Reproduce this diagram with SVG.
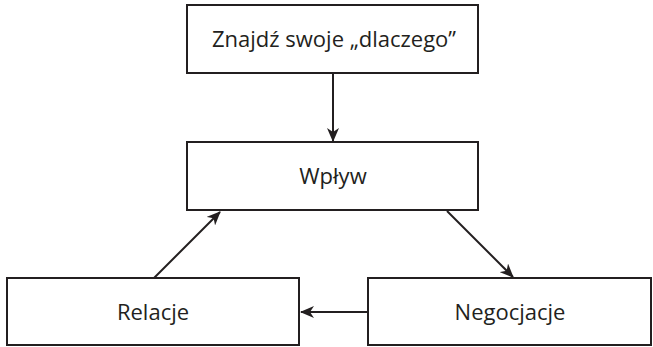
<svg xmlns="http://www.w3.org/2000/svg" width="653" height="347" viewBox="0 0 653 347">
<style>
.box{fill:#fff;stroke:#231f20;stroke-width:2}
.lbl{font-family:"Open Sans","Liberation Sans",sans-serif;font-size:22px;fill:#231f20;text-anchor:middle}
.edge{stroke:#231f20;stroke-width:2;fill:none;marker-end:url(#ah)}
</style>
<defs>
<marker id="ah" viewBox="0 0 14 12" refX="13" refY="6" markerWidth="14" markerHeight="12" markerUnits="userSpaceOnUse" orient="auto">
<path d="M0,0 L14,6 L0,12 L4,6 Z" fill="#231f20"/>
</marker>
</defs>
<rect width="653" height="347" fill="#fff"/>
<g id="connectors">
<line class="edge" x1="333" y1="73" x2="333" y2="141"/>
<line class="edge" x1="154" y1="278" x2="220" y2="212"/>
<line class="edge" x1="447" y1="211" x2="513" y2="277"/>
<line class="edge" x1="368" y1="312" x2="301" y2="312"/>
</g>
<g id="n1"><rect class="box" x="187" y="5" width="291" height="68"/><text class="lbl" x="334" y="47">Znajdź swoje „dlaczego”</text></g>
<g id="n2"><rect class="box" x="187" y="142" width="291" height="68"/><text class="lbl" x="333" y="184">Wpływ</text></g>
<g id="n3"><rect class="box" x="7" y="278" width="292" height="67"/><text class="lbl" x="153" y="320">Relacje</text></g>
<g id="n4"><rect class="box" x="368" y="278" width="283" height="67"/><text class="lbl" x="510" y="320">Negocjacje</text></g>
</svg>
